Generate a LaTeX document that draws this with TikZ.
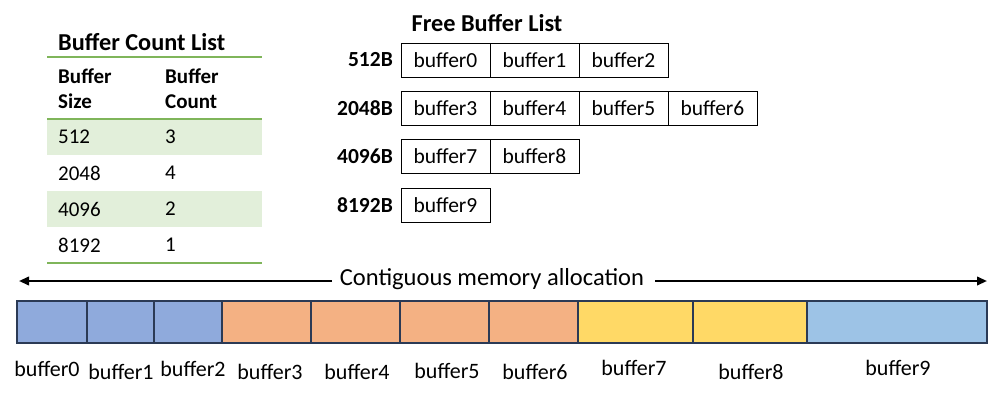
\documentclass[tikz,border=0pt]{standalone}
\usepackage{fontspec}
\setmainfont{Carlito}
\usetikzlibrary{arrows.meta}
\definecolor{tgreen}{HTML}{7FB55A}
\definecolor{tshade}{HTML}{E2EFDA}
\definecolor{cblue}{HTML}{8FAADC}
\definecolor{corange}{HTML}{F4B183}
\definecolor{cyellow}{HTML}{FFD966}
\definecolor{clblue}{HTML}{9DC3E6}
\definecolor{cborder}{HTML}{2B3A55}
\tikzset{
  fbox/.style={draw=black, line width=1pt, minimum width=89pt, minimum height=34pt, inner sep=0pt, font=\fontsize{21.5}{25}\selectfont},
  rowlab/.style={anchor=east, inner sep=0pt, font=\fontsize{21.5}{25}\selectfont\bfseries},
  ttitle/.style={inner sep=0pt, font=\fontsize{24.3}{28}\selectfont\bfseries},
  tcell/.style={anchor=west, inner sep=0pt, font=\fontsize{21}{25}\selectfont},
  thead/.style={anchor=west, inner sep=0pt, align=left, font=\fontsize{21}{25}\selectfont\bfseries},
  mcell/.style={draw=cborder, line width=1.5pt, minimum height=42pt, inner sep=0pt},
  mlab/.style={inner sep=0pt, font=\fontsize{22}{25}\selectfont},
  tline/.style={draw=tgreen, line width=2pt},
  larrow/.style={line width=2.2pt, -{Triangle[length=10pt,width=8.5pt]}}
}
\begin{document}
\begin{tikzpicture}[x=1pt,y=-1pt]
\useasboundingbox (0,0) rectangle (997,397);
% ---- Buffer Count List table
\fill[tshade] (47,119) rectangle (262,155);
\fill[tshade] (47,191) rectangle (262,227);
\node[ttitle, anchor=west] (ttl) at (58,42) {Buffer Count List};
\coordinate (l1a) at (47,57); \coordinate (l1b) at (262,57);
\coordinate (l2a) at (47,119); \coordinate (l2b) at (262,119);
\coordinate (l3a) at (47,263); \coordinate (l3b) at (262,263);
\draw[tline] (l1a) -- (l1b);
\draw[tline] (l2a) -- (l2b);
\draw[tline] (l3a) -- (l3b);
\node[thead] (h1) at (58,89) {Buffer\\Size};
\node[thead] (h2) at (165,89) {Buffer\\Count};
\node[tcell] (s1) at (58,137) {512};
\node[tcell] (c1) at (165,137) {3};
\node[tcell] (s2) at (58,173) {2048};
\node[tcell] (c2) at (165,173) {4};
\node[tcell] (s3) at (58,209) {4096};
\node[tcell] (c3) at (165,209) {2};
\node[tcell] (s4) at (58,245) {8192};
\node[tcell] (c4) at (165,245) {1};
% ---- Free Buffer List
\node[ttitle] (ftl) at (487,23) {Free Buffer List};
\node[rowlab] (r1) at (393,60) {512B};
\node[rowlab] (r2) at (393,108.5) {2048B};
\node[rowlab] (r3) at (393,156) {4096B};
\node[rowlab] (r4) at (393,205) {8192B};
\node[fbox] (f0) at (445.5,60) {buffer0};
\node[fbox] (f1) at (534.5,60) {buffer1};
\node[fbox] (f2) at (623.5,60) {buffer2};
\node[fbox] (f3) at (445.5,108.5) {buffer3};
\node[fbox] (f4) at (534.5,108.5) {buffer4};
\node[fbox] (f5) at (623.5,108.5) {buffer5};
\node[fbox] (f6) at (712.5,108.5) {buffer6};
\node[fbox] (f7) at (445.5,156) {buffer7};
\node[fbox] (f8) at (534.5,156) {buffer8};
\node[fbox] (f9) at (445.5,205) {buffer9};
% ---- Contiguous memory arrow
\node[inner sep=0pt, font=\fontsize{24.5}{28}\selectfont] (alloc) at (492,279) {Contiguous memory allocation};
\coordinate (aleft) at (19,281);
\coordinate (aright) at (987,281);
\draw[larrow] (332,281) -- (aleft);
\draw[larrow] (655,281) -- (aright);
% ---- memory bar
\node[mcell, fill=cblue, minimum width=70pt] (m0) at (52,322) {};
\node[mcell, fill=cblue, minimum width=67pt] (m1) at (120.5,322) {};
\node[mcell, fill=cblue, minimum width=68pt] (m2) at (188,322) {};
\node[mcell, fill=corange, minimum width=89pt] (m3) at (266.5,322) {};
\node[mcell, fill=corange, minimum width=89pt] (m4) at (355.5,322) {};
\node[mcell, fill=corange, minimum width=89pt] (m5) at (444.5,322) {};
\node[mcell, fill=corange, minimum width=89pt] (m6) at (533.5,322) {};
\node[mcell, fill=cyellow, minimum width=115pt] (m7) at (635.5,322) {};
\node[mcell, fill=cyellow, minimum width=114pt] (m8) at (750,322) {};
\node[mcell, fill=clblue, minimum width=180pt] (m9) at (897,322) {};
% ---- labels under bar
\node[mlab] (b0) at (47,369) {buffer0};
\node[mlab] (b1) at (121,372) {buffer1};
\node[mlab] (b2) at (193,369) {buffer2};
\node[mlab] (b3) at (270,372) {buffer3};
\node[mlab] (b4) at (357,372) {buffer4};
\node[mlab] (b5) at (447,371) {buffer5};
\node[mlab] (b6) at (535,372) {buffer6};
\node[mlab] (b7) at (634,368) {buffer7};
\node[mlab] (b8) at (751,372) {buffer8};
\node[mlab] (b9) at (898,368) {buffer9};
\end{tikzpicture}
\end{document}
